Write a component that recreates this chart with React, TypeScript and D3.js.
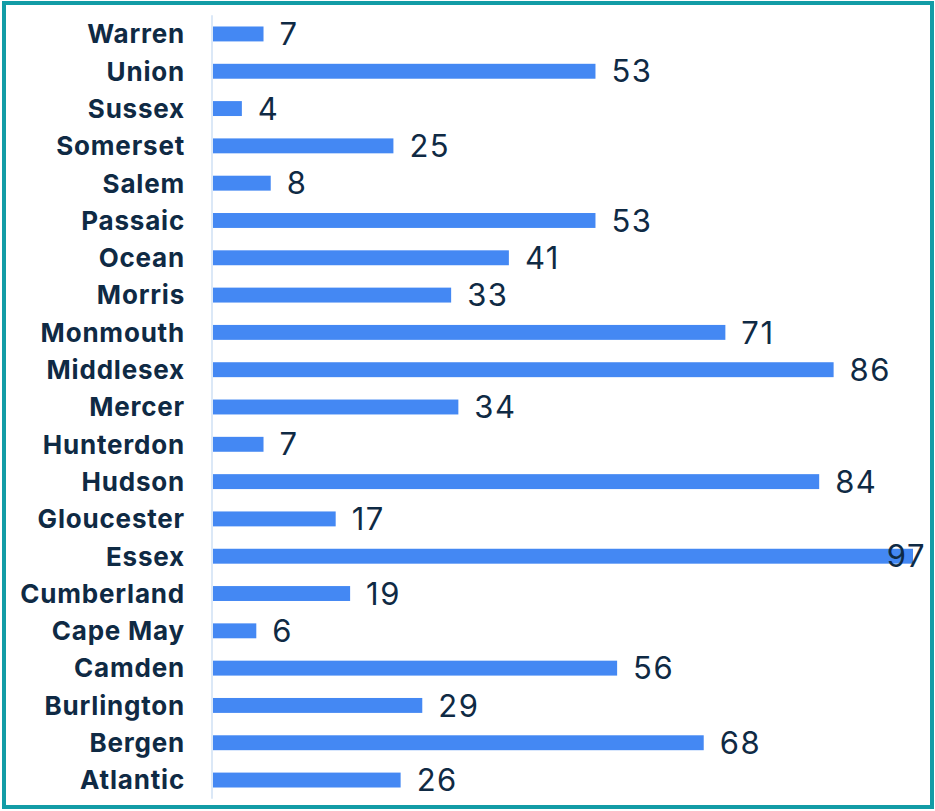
import React from "react";
import * as d3 from "d3";

const categories = [
  "Warren", "Union", "Sussex", "Somerset", "Salem", "Passaic", "Ocean", "Morris",
  "Monmouth", "Middlesex", "Mercer", "Hunterdon", "Hudson", "Gloucester", "Essex",
  "Cumberland", "Cape May", "Camden", "Burlington", "Bergen", "Atlantic",
];
const values = [7, 53, 4, 25, 8, 53, 41, 33, 71, 86, 34, 7, 84, 17, 97, 19, 6, 56, 29, 68, 26];

const W = 935;
const H = 811;
const X0 = 213;
const X1 = 913;
const Y0 = 15.3;
const Y1 = 798.7;
const TEXT = "#0f2a44";
const BAR = "#4488f3";
const BORDER = "#129ca6";

export default function App() {
  const x = d3.scaleLinear().domain([0, d3.max(values) as number]).range([X0, X1]);
  const y = d3.scaleBand<string>().domain(categories).range([Y0, Y1]).paddingInner(0.6).paddingOuter(0.3);
  const data = categories.map((c, i) => ({ c, v: values[i] }));
  return (
    <svg width={W} height={H} style={{ position: "absolute", left: 0, top: 0, display: "block" }}>
      <rect x={0} y={0} width={W} height={H} fill="#ffffff" />
      <rect x={4} y={3} width={928} height={804} fill="none" stroke={BORDER} strokeWidth={4} />
      <line x1={212} x2={212} y1={Y0} y2={Y1} stroke="#cfe0f5" strokeWidth={1.5} />
      {data.map((d) => {
        const cy = (y(d.c) as number) + y.bandwidth() / 2;
        const end = x(d.v);
        const overflow = end + 16 + 40 > 930;
        return (
          <g key={d.c}>
            <rect x={x(0)} y={y(d.c)} width={end - x(0)} height={y.bandwidth()} fill={BAR} />
            <text
              x={185}
              y={cy}
              dy="0.36em"
              textAnchor="end"
              fontFamily="Inter, 'Liberation Sans', sans-serif"
              fontWeight={700}
              fontSize={26}
              letterSpacing={0.8}
              fill={TEXT}
            >
              {d.c}
            </text>
            <text
              x={overflow ? 926 : end + 16}
              y={cy}
              dy="0.36em"
              textAnchor={overflow ? "end" : "start"}
              fontFamily="Inter, 'Liberation Sans', sans-serif"
              fontWeight={400}
              fontSize={31}
              letterSpacing={1.5}
              fill={TEXT}
            >
              {d.v}
            </text>
          </g>
        );
      })}
    </svg>
  );
}
